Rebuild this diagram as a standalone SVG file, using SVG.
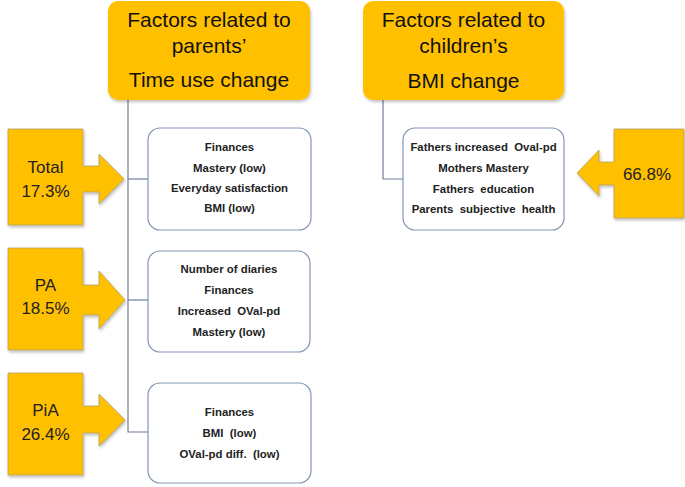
<svg xmlns="http://www.w3.org/2000/svg" width="685" height="487" viewBox="0 0 685 487">
<defs>
<filter id="sh" x="-10%" y="-10%" width="125%" height="130%">
<feDropShadow dx="1" dy="2" stdDeviation="1.5" flood-color="#000" flood-opacity="0.25"/>
</filter>
<style>
.hdr{fill:#FFC000;filter:url(#sh)}
.ht{font-family:"Liberation Sans",Arial,sans-serif;font-size:21px;fill:#111;text-anchor:middle}
.box{fill:#fff;stroke:#8497B5;stroke-width:1.2}
.bt{font-family:"Liberation Sans",Arial,sans-serif;font-size:11.4px;font-weight:bold;fill:#222;text-anchor:middle}
.arr{fill:#FFC000;stroke:#B8A060;stroke-width:0.8;filter:url(#sh)}
.at{font-family:"Liberation Sans",Arial,sans-serif;font-size:17px;fill:#222;text-anchor:middle}
.con{fill:none;stroke:#6E7F99;stroke-width:1.2}
</style>
</defs>
<rect width="685" height="487" fill="#fff"/>
<g id="connectors">
<path class="con" d="M128,100 V432 H148"/>
<path class="con" d="M128,179 H148"/>
<path class="con" d="M128,300 H148"/>
<path class="con" d="M383,100 V179 H403"/>
</g>
<g id="header-parents">
<rect class="hdr" x="108" y="1" width="202" height="99" rx="10"/>
<text class="ht" x="209" y="27">Factors related to</text>
<text class="ht" x="209" y="53">parents’</text>
<text class="ht" x="209" y="87">Time use change</text>
</g>
<g id="header-children">
<rect class="hdr" x="363" y="1" width="201" height="99" rx="10"/>
<text class="ht" x="463.5" y="27">Factors related to</text>
<text class="ht" x="463.5" y="53">children’s</text>
<text class="ht" x="463.5" y="88">BMI change</text>
</g>
<g id="box-total">
<rect class="box" x="148" y="128" width="163" height="102" rx="12"/>
<text class="bt" x="229.5" y="151">Finances</text>
<text class="bt" x="229.5" y="172">Mastery (low)</text>
<text class="bt" x="229.5" y="192">Everyday satisfaction</text>
<text class="bt" x="229.5" y="212">BMI (low)</text>
</g>
<g id="box-pa">
<rect class="box" x="148" y="251" width="162" height="101" rx="12"/>
<text class="bt" x="229" y="273">Number of diaries</text>
<text class="bt" x="229" y="294">Finances</text>
<text class="bt" x="229" y="315" xml:space="preserve">Increased  OVal-pd</text>
<text class="bt" x="229" y="336">Mastery (low)</text>
</g>
<g id="box-pia">
<rect class="box" x="148" y="383" width="163" height="100" rx="12"/>
<text class="bt" x="229.5" y="416">Finances</text>
<text class="bt" x="229.5" y="437" xml:space="preserve">BMI  (low)</text>
<text class="bt" x="229.5" y="458" xml:space="preserve">OVal-pd diff.  (low)</text>
</g>
<g id="box-children">
<rect class="box" x="403" y="128" width="161" height="102" rx="12"/>
<text class="bt" x="483.5" y="151" xml:space="preserve">Fathers increased  Oval-pd</text>
<text class="bt" x="483.5" y="172">Mothers Mastery</text>
<text class="bt" x="483.5" y="193" xml:space="preserve">Fathers  education</text>
<text class="bt" x="483.5" y="213" xml:space="preserve">Parents  subjective  health</text>
</g>
<g id="arrow-total">
<path class="arr" d="M8,129 H83 V166 H99 V154 L124,179 L99,204 V192 H83 V225 H8 Z"/>
<text class="at" x="45.5" y="173">Total</text>
<text class="at" x="45.5" y="197">17.3%</text>
</g>
<g id="arrow-pa">
<path class="arr" d="M8,248 H83 V285 H99 V271 L125,300 L99,329 V315 H83 V350 H8 Z"/>
<text class="at" x="45.5" y="291">PA</text>
<text class="at" x="45.5" y="314">18.5%</text>
</g>
<g id="arrow-pia">
<path class="arr" d="M8,373 H83 V406 H99 V394 L125,420 L99,446 V433 H83 V475 H8 Z"/>
<text class="at" x="45.5" y="416">PiA</text>
<text class="at" x="45.5" y="440">26.4%</text>
</g>
<g id="arrow-children">
<path class="arr" d="M684,129 H614 V162 H599 V150 L577,173 L599,196 V185 H614 V218 H684 Z"/>
<text class="at" x="647" y="180">66.8%</text>
</g>
</svg>
